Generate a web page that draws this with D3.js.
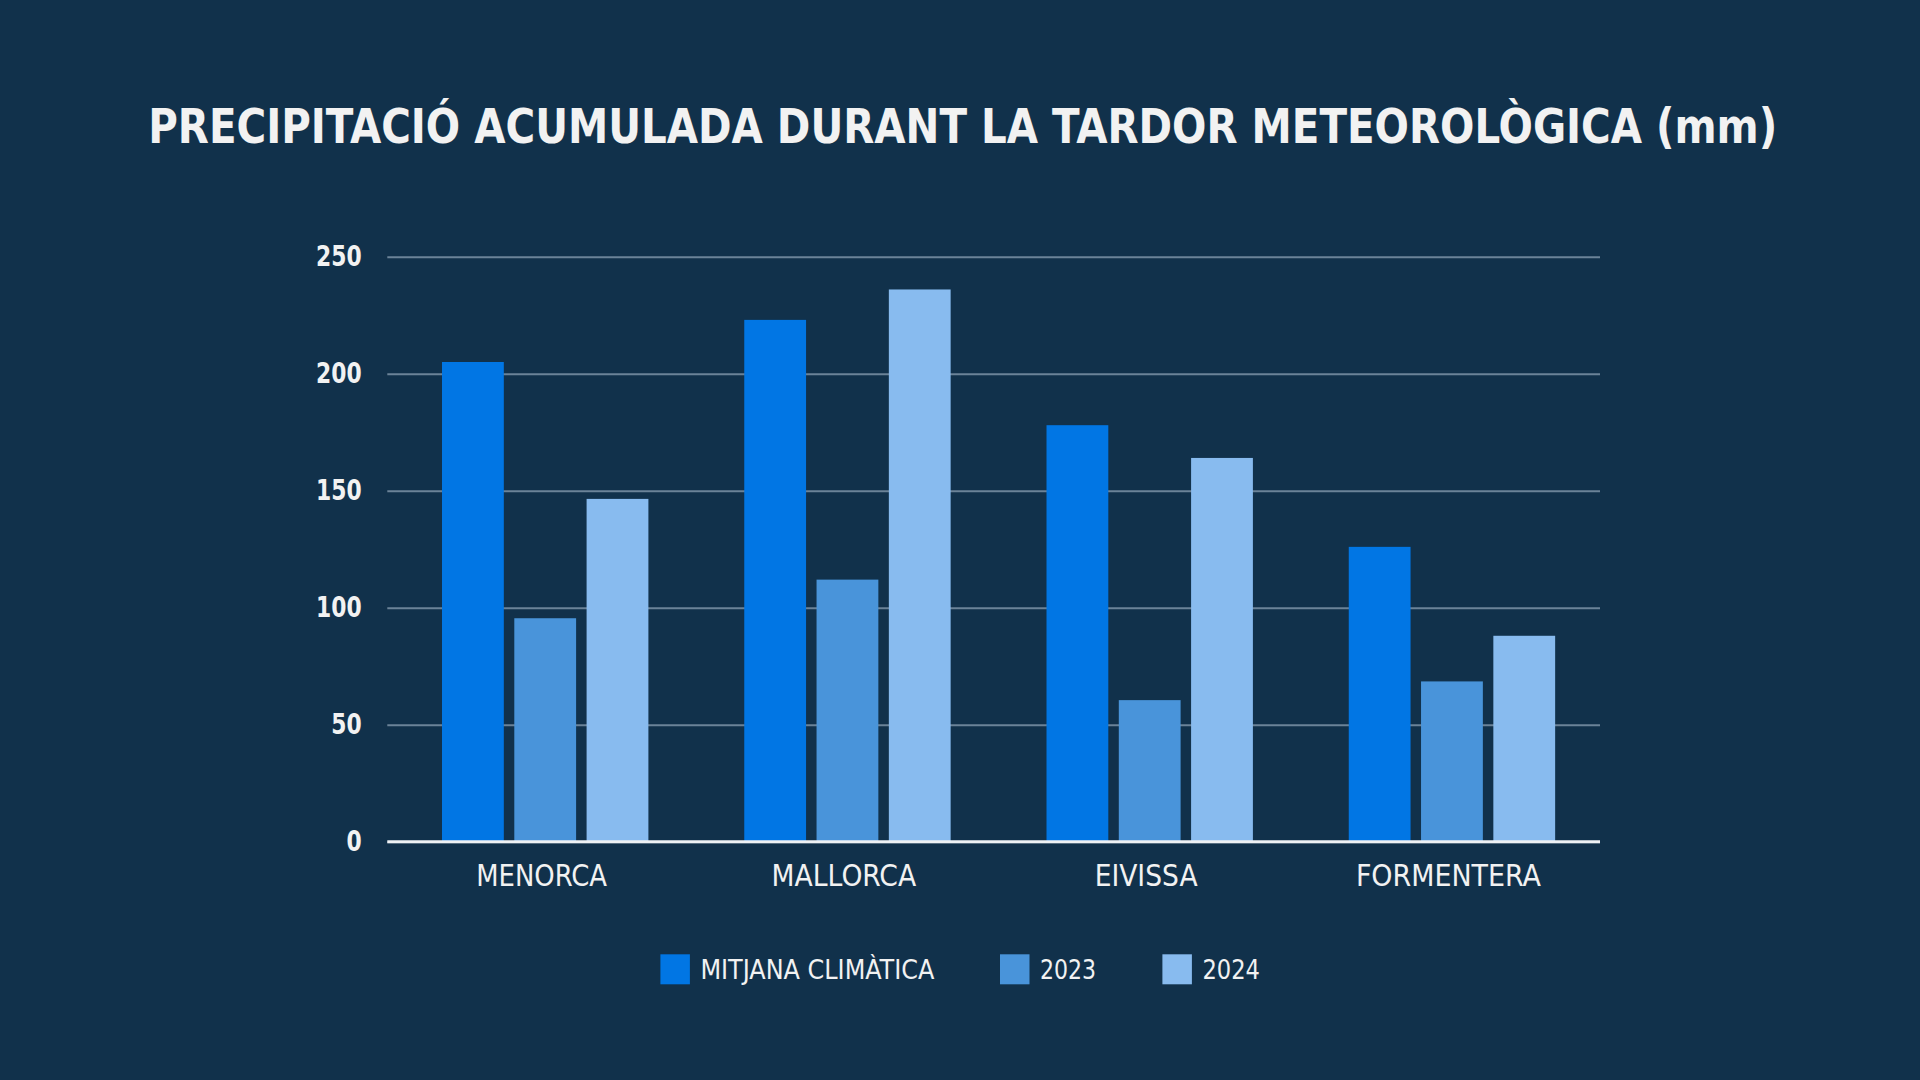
<!DOCTYPE html>
<html>
<head>
<meta charset="utf-8">
<script src="https://cdn.jsdelivr.net/npm/d3@7"></script>
<style>
  html, body { margin: 0; padding: 0; background: #11314b; }
  svg { display: block; }
  text { font-family: "DejaVu Sans Condensed", "Liberation Sans Narrow", "DejaVu Sans", sans-serif; font-stretch: condensed; fill: #f2f2f2; }
</style>
</head>
<body>
<svg id="chart" width="1920" height="1080"></svg>
<script>

// The values.
const islands = ["MENORCA", "MALLORCA", "EIVISSA", "FORMENTERA"];
const seriesNames = ["MITJANA CLIMÀTICA", "2023", "2024"];
const mitjana = [205, 223, 178, 126];
const values2023 = [95.5, 112, 60.5, 68.5];
const values2024 = [146.5, 236, 164, 88];
const yTicks = [0, 50, 100, 150, 200, 250];

const title = "PRECIPITACIÓ ACUMULADA DURANT LA TARDOR METEOROLÒGICA (mm)";
const colors = ["#0176e4", "#4994da", "#88bbef"];


// Table built from the arrays above: one row per island.
let rows = islands.map((name, i) => {
	return {
		island: name,
		values: [mitjana[i], values2023[i], values2024[i]]
	};
}); // map


// Squeeze a text into the width it has in the picture.
function fit(sel, width){
	sel.attr("textLength", width).attr("lengthAdjust", "spacingAndGlyphs");
} // fit


let svg = d3.select("#chart");

svg.append("rect")
  .attr("width", 1920)
  .attr("height", 1080)
  .attr("fill", "#11314b");


// Scales.
let x0 = d3.scaleBand()
  .domain(islands)
  .range([394, 1603]);

let x1 = d3.scaleBand()
  .domain(seriesNames)
  .range([48, 254.4])
  .paddingInner(0.145);

let y = d3.scaleLinear()
  .domain([0, 250])
  .range([841.7, 256.7]);

let left = 387.3, right = 1600;


// Gridlines and the tick labels come from the y axis.
let yAxis = svg.append("g")
  .attr("class", "y-axis")
  .attr("transform", `translate(${left},0)`)
  .call(d3.axisLeft(y)
	.tickValues(yTicks)
	.tickSize(-(right - left))
	.tickPadding(25.6));

yAxis.select(".domain").remove();
yAxis.selectAll(".tick line")
  .attr("stroke", "#6b8398")
  .attr("stroke-width", 2);
yAxis.selectAll(".tick text")
  .attr("fill", "#f2f2f2")
  .style("font-size", "27.5px")
  .style("font-weight", "bold")
  .each(function(d){
	// Digits are about 15px wide in the picture.
	fit(d3.select(this), String(d).length * 15.2);
  });


// The bars.
let groups = svg.append("g")
  .attr("class", "bars")
  .selectAll("g")
  .data(rows)
  .enter()
  .append("g")
	.attr("transform", d => `translate(${x0(d.island)},0)`);

groups.selectAll("rect")
  .data(d => d.values.map((v, i) => ({ name: seriesNames[i], value: v, i: i })))
  .enter()
  .append("rect")
	.attr("x", d => x1(d.name))
	.attr("y", d => y(d.value))
	.attr("width", x1.bandwidth())
	.attr("height", d => y(0) - y(d.value))
	.attr("fill", d => colors[d.i]);


// Baseline over the bars.
svg.append("line")
  .attr("x1", left)
  .attr("x2", right)
  .attr("y1", y(0))
  .attr("y2", y(0))
  .attr("stroke", "#eef1f4")
  .attr("stroke-width", 3);


// Island names below the baseline.
let catWidths = [130.7, 144.6, 103, 185];

let xAxis = svg.append("g")
  .attr("class", "x-axis")
  .attr("transform", `translate(-3.5,${y(0)})`)
  .call(d3.axisBottom(x0).tickSize(0));

xAxis.select(".domain").remove();
xAxis.selectAll(".tick text")
  .attr("y", 44.3)
  .attr("dy", 0)
  .attr("fill", "#f2f2f2")
  .style("font-size", "30px")
  .each(function(d, i){
	fit(d3.select(this), catWidths[i]);
  });


// Title.
svg.append("text")
  .attr("x", 962.7)
  .attr("y", 143.3)
  .attr("text-anchor", "middle")
  .style("font-size", "48px")
  .style("font-weight", "bold")
  .text(title)
  .call(fit, 1629);


// Legend.
let legendX = [660.4, 1000, 1162.4];
let legendWidths = [234, 56, 57.5];

let legend = svg.append("g")
  .attr("class", "legend")
  .selectAll("g")
  .data(seriesNames)
  .enter()
  .append("g")
	.attr("transform", (d, i) => `translate(${legendX[i]},954.3)`);

legend.append("rect")
  .attr("width", 29.5)
  .attr("height", 30)
  .attr("fill", (d, i) => colors[i]);

legend.append("text")
  .attr("x", 40)
  .attr("y", 25)
  .style("font-size", "26px")
  .text(d => d)
  .each(function(d, i){
	fit(d3.select(this), legendWidths[i]);
  });

</script>
</body>
</html>
